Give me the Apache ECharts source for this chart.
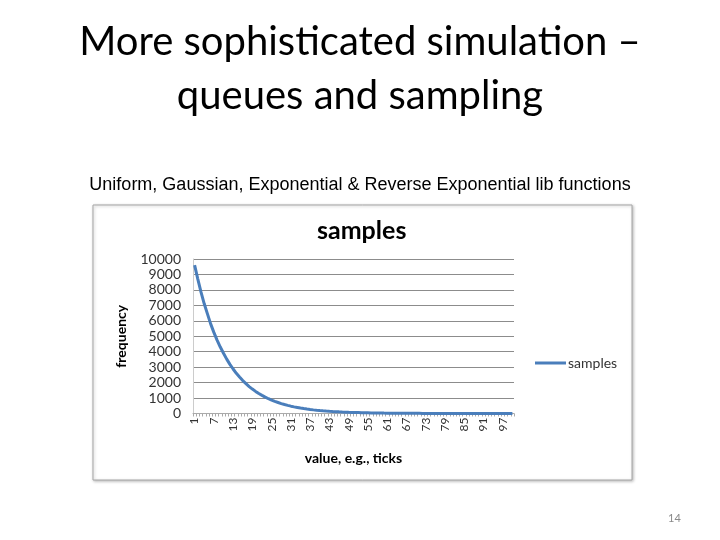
<!DOCTYPE html>
<html><head><meta charset="utf-8">
<script src="https://cdn.jsdelivr.net/npm/echarts@6/dist/echarts.min.js"></script>
<style>html,body{margin:0;padding:0;background:#fff}#c{width:720px;height:540px}</style>
</head><body><div id="c"></div>
<script>
const slideTitle = "More sophisticated simulation –\nqueues and sampling";
const slideSubtitle = "Uniform, Gaussian, Exponential & Reverse Exponential lib functions";
const chartTitle = "samples";
const seriesName = "samples";
const xName = "value, e.g., ticks";
const yName = "frequency";
const pageNumber = "14";
const categories = [];
for (let i = 1; i <= 100; i++) categories.push(String(i));
const samples = [
 9600,8700,7850,7100,6450,5800,5250,4750,4300,3900,
 3520,3180,2880,2600,2360,2130,1930,1740,1580,1430,
 1290,1170,1060,955,865,780,710,640,580,525,
 475,430,390,350,318,288,260,235,213,193,
 174,158,143,129,117,106,96,87,78,71,
 64,58,52,47,43,39,35,32,29,26,
 24,21,19,17,16,14,13,12,11,10,
 9,8,7,6,6,5,5,4,4,3,
 3,3,2,2,2,2,1,1,1,1,
 1,1,1,0,1,0,0,0,0,0
];
const yTicks = [0,1000,2000,3000,4000,5000,6000,7000,8000,9000,10000];

const chart = echarts.init(document.getElementById('c'), null, {renderer:'canvas'});
chart.setOption({
  animation:false,
  backgroundColor:'#ffffff',
  graphic:[{
    type:'rect', z:-10,
    shape:{x:93,y:205,width:539,height:275},
    style:{fill:'#ffffff',stroke:'#a6a6a6',lineWidth:1,shadowBlur:3,shadowColor:'rgba(0,0,0,0.25)',shadowOffsetX:1,shadowOffsetY:1}
  }],
  title:[
    {text:slideTitle,left:'center',top:10,textStyle:{fontFamily:'Lato',fontWeight:'normal',fontSize:40,color:'#000',lineHeight:54}},
    {text:slideSubtitle,left:'center',top:171,textStyle:{fontFamily:'Liberation Sans',fontWeight:'normal',fontSize:18,color:'#000'}},
    {text:chartTitle,left:317,top:218,padding:0,textStyle:{fontFamily:'Lato',fontWeight:'bold',fontSize:25,color:'#000'}},
    {text:pageNumber,left:663,top:508,textStyle:{fontFamily:'Lato',fontWeight:'normal',fontSize:11,color:'#8a8a8a'}}
  ],
  legend:{
    data:[seriesName], left:530, top:351, itemWidth:31, itemHeight:3, itemGap:0,
    icon:'rect',
    textStyle:{fontFamily:'Lato',fontSize:14,color:'#333',padding:[0,0,0,-3]}
  },
  grid:{left:193,right:206,top:259,bottom:126.5,containLabel:false},
  xAxis:{
    type:'category', data:categories, boundaryGap:true,
    name:xName, nameLocation:'middle', nameGap:38,
    nameTextStyle:{fontFamily:'Lato',fontWeight:'bold',fontSize:14,color:'#000'},
    axisLine:{lineStyle:{color:'#aaaaaa',width:1}},
    axisTick:{show:true,interval:0,length:3,lineStyle:{color:'#aaaaaa'}},
    axisLabel:{interval:5,rotate:90,fontFamily:'Lato',fontSize:12,color:'#333',margin:4}
  },
  yAxis:{
    type:'value', min:0, max:10000, interval:1000,
    name:yName, nameLocation:'middle', nameGap:65,
    nameTextStyle:{fontFamily:'Lato',fontWeight:'bold',fontSize:14,color:'#000'},
    axisLine:{show:true,lineStyle:{color:'#cccccc'}},
    axisTick:{show:false},
    axisLabel:{fontFamily:'Lato',fontSize:14,color:'#333',margin:12,formatter:function(v){return String(v);}},
    splitLine:{lineStyle:{color:'#8c8c8c',width:1}}
  },
  series:[{
    name:seriesName, type:'line', data:samples, showSymbol:false, symbol:'none',
    lineStyle:{color:'#4a7ebb',width:3}, itemStyle:{color:'#4a7ebb'}
  }]
});
</script></body></html>
